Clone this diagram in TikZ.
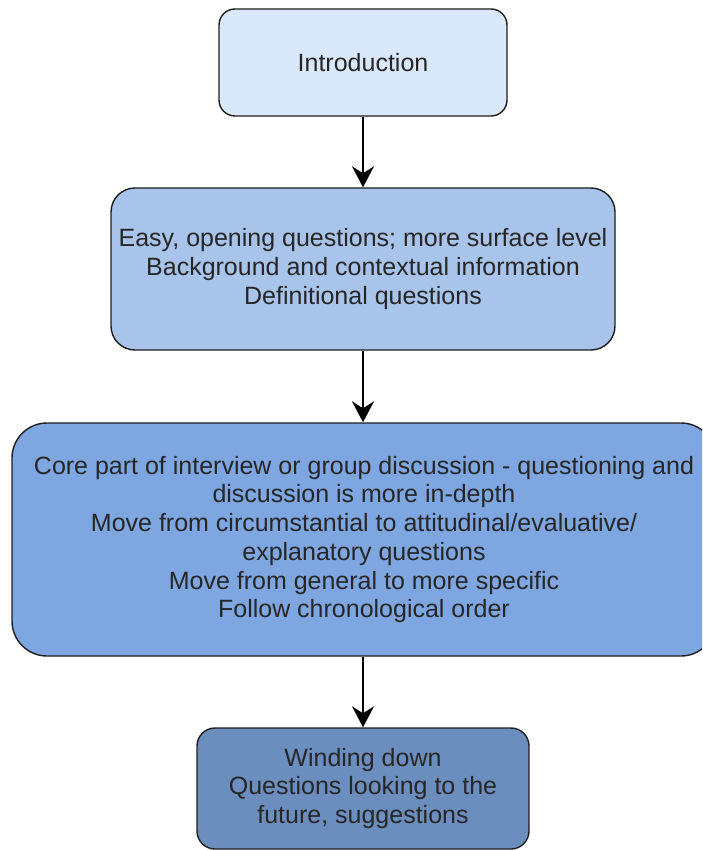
\documentclass[tikz,border=0pt]{standalone}
\usepackage{fontspec}
\setmainfont{Liberation Sans}
\usetikzlibrary{arrows.meta}

\definecolor{fillA}{HTML}{DAE8FC}
\definecolor{fillB}{HTML}{A9C4EB}
\definecolor{fillC}{HTML}{7EA6E0}
\definecolor{fillD}{HTML}{6C8EBF}
\definecolor{edge}{HTML}{1E1E1E}
\definecolor{ink}{HTML}{262626}

\tikzset{
  stage/.style={draw=edge, line width=1.4pt, align=center, text=ink,
    font=\fontsize{25}{28.7}\selectfont, inner sep=0pt},
  flow/.style={draw=black, line width=2pt,
    -{Stealth[length=21pt, width=22pt, inset=7pt]}}
}

\begin{document}
\begin{tikzpicture}[x=1pt, y=-1pt]
  \useasboundingbox (0,0) rectangle (702,850);
  \clip (0,0) rectangle (702,850);

  % four stages of the interview, top to bottom
  \node[stage, fill=fillA, minimum width=288pt, minimum height=107pt,
        rounded corners=16pt] (intro) at (363,62.5) {Introduction};

  \node[stage, fill=fillB, minimum width=504pt, minimum height=162pt,
        rounded corners=24pt] (opening) at (363,269)
    {Easy, opening questions; more surface level\\
     Background and contextual information\\
     Definitional questions};

  \node[stage, fill=fillC, minimum width=704pt, minimum height=233pt,
        rounded corners=35pt] (core) at (364,539.5)
    {Core part of interview or group discussion - questioning and\\
     discussion is more in-depth\\
     Move from circumstantial to attitudinal/evaluative/\\
     explanatory questions\\
     Move from general to more specific\\
     Follow chronological order};

  \node[stage, fill=fillD, minimum width=332pt, minimum height=121pt,
        rounded corners=18pt] (closing) at (363,788.5)
    {Winding down\\
     Questions looking to the\\
     future, suggestions};

  % connectors between consecutive stages
  \draw[flow] (intro.south) -- (intro.south |- opening.north);
  \draw[flow] (opening.south) -- (opening.south |- core.north);
  \draw[flow] (opening.south |- core.south) -- (opening.south |- closing.north);
\end{tikzpicture}
\end{document}
